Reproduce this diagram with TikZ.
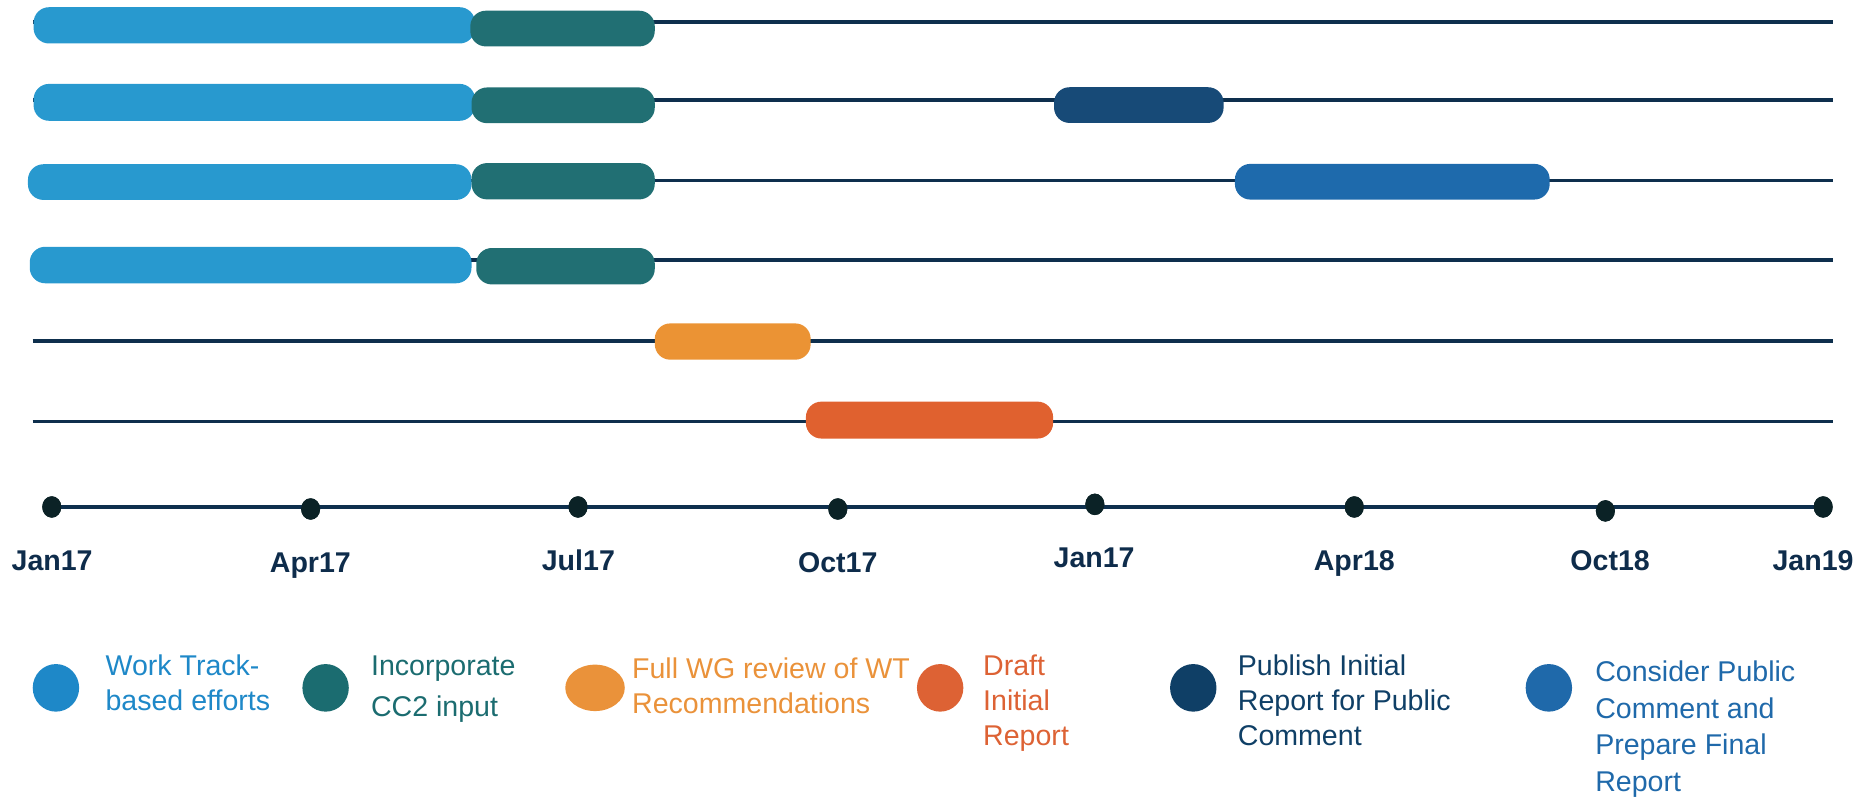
\documentclass[tikz,border=0pt]{standalone}
\usepackage{fontspec}
\setmainfont{Liberation Sans}
\definecolor{lb}{HTML}{2899CF}
\definecolor{teal2}{HTML}{216F73}
\definecolor{navy2}{HTML}{174A77}
\definecolor{blue2}{HTML}{1E6AAC}
\definecolor{orange2}{HTML}{EB9334}
\definecolor{red2}{HTML}{E0612F}
\definecolor{linec}{HTML}{0E2F4D}
\definecolor{dotc}{HTML}{0B2226}
\definecolor{labc}{HTML}{0E2C4B}
\definecolor{t1}{HTML}{1E88C8}
\definecolor{t2}{HTML}{1B6C70}
\definecolor{t3}{HTML}{EA923A}
\definecolor{t4}{HTML}{DD6234}
\definecolor{t5}{HTML}{0F3F66}
\definecolor{t6}{HTML}{1F69AA}
\tikzset{
  bar/.style={rectangle, rounded corners=13pt, inner sep=0pt, anchor=west, draw=none},
  rowline/.style={draw=linec, line width=3pt},
  tick/.style={ellipse, fill=dotc, minimum width=16pt, minimum height=18pt, inner sep=0pt},
  datelab/.style={anchor=base, inner sep=0pt, text=labc, font=\fontsize{24}{28}\selectfont\bfseries},
  legdot/.style={ellipse, inner sep=0pt, minimum height=40pt},
  legtext/.style={anchor=north west, inner sep=0pt, align=left}
}
\usetikzlibrary{shapes.geometric}
\begin{document}
\begin{tikzpicture}[x=1pt,y=-1pt]
\useasboundingbox (0,0) rectangle (1568,672);
% row lines
\coordinate (l1s) at (28,18.5);   \coordinate (l1e) at (1540,18.5);
\coordinate (l2s) at (28,84);     \coordinate (l2e) at (1540,84);
\coordinate (l3s) at (28,151.5);  \coordinate (l3e) at (1540,151.5);
\coordinate (l4s) at (28,218.5);  \coordinate (l4e) at (1540,218.5);
\coordinate (l5s) at (27.5,286.5);\coordinate (l5e) at (1540,286.5);
\coordinate (l6s) at (27.5,354);  \coordinate (l6e) at (1540,354);
\foreach \i in {1,...,6} \draw[rowline] (l\i s) -- (l\i e);
% bars
\node[bar, fill=lb, minimum width=371pt, minimum height=30.5pt] (b1a) at (28,21.3) {};
\node[bar, fill=lb, minimum width=371pt, minimum height=31pt] (b2a) at (28,86) {};
\node[bar, fill=lb, minimum width=372.7pt, minimum height=30pt] (b3a) at (23.3,153) {};
\node[bar, fill=lb, minimum width=371.2pt, minimum height=30.7pt] (b4a) at (24.8,222.7) {};
\node[bar, fill=teal2, minimum width=155pt, minimum height=30pt] (b1b) at (395,24) {};
\node[bar, fill=teal2, minimum width=154pt, minimum height=30pt] (b2b) at (396,88.5) {};
\node[bar, fill=teal2, minimum width=154pt, minimum height=30.5pt] (b3b) at (396,152.3) {};
\node[bar, fill=teal2, minimum width=150pt, minimum height=30.6pt] (b4b) at (400,223.7) {};
\node[bar, fill=navy2, minimum width=142.5pt, minimum height=30pt] (b2c) at (885.5,88.3) {};
\node[bar, fill=blue2, minimum width=264.5pt, minimum height=30pt] (b3c) at (1037.5,152.7) {};
\node[bar, fill=orange2, minimum width=131pt, minimum height=30.5pt] (b5) at (550,287) {};
\node[bar, fill=red2, minimum width=207.7pt, minimum height=31pt] (b6) at (677,353) {};
% axis
\node[tick] (d1) at (43.5,426) {};
\node[tick] (d2) at (261,427.7) {};
\node[tick] (d3) at (485.7,426) {};
\node[tick] (d4) at (704,427.7) {};
\node[tick] (d5) at (920,423.8) {};
\node[tick] (d6) at (1138,426) {};
\node[tick] (d7) at (1349,429.3) {};
\node[tick] (d8) at (1532,426) {};
\draw[rowline] (d1.center) -- (d8.center);
\foreach \i in {1,...,8} \fill[dotc] (d\i) ellipse (8pt and 9pt);
\node[datelab] (a1) at (43.8,479.6) {Jan17};
\node[datelab] (a2) at (260.8,481.2) {Apr17};
\node[datelab] (a3) at (486,479.6) {Jul17};
\node[datelab] (a4) at (704,481.2) {Oct17};
\node[datelab] (a5) at (919.4,477) {Jan17};
\node[datelab] (a6) at (1138,479.6) {Apr18};
\node[datelab] (a7) at (1353,479.6) {Oct18};
\node[datelab] (a8) at (1523.5,479.6) {Jan19};
% legend
\node[legdot, fill=t1, minimum width=39pt] (k1) at (47,578) {};
\node[legdot, fill=t2, minimum width=39pt] (k2) at (273.6,578) {};
\node[legdot, fill=t3, minimum width=50pt, minimum height=39pt] (k3) at (500,578) {};
\node[legdot, fill=t4, minimum width=39pt] (k4) at (790,578) {};
\node[legdot, fill=t5, minimum width=39pt] (k5) at (1002.7,578) {};
\node[legdot, fill=t6, minimum width=39pt] (k6) at (1301.5,578) {};
\node[legtext, text=t1, font=\fontsize{24}{29.4}\selectfont] (x1) at (88.5,549.7) {Work Track-\\based efforts};
\node[legtext, text=t2, font=\fontsize{24}{34}\selectfont] (x2) at (311.6,551.2) {Incorporate\\CC2 input};
\node[legtext, text=t3, font=\fontsize{24}{29.4}\selectfont] (x3) at (531,552.5) {Full WG review of WT\\Recommendations};
\node[legtext, text=t4, font=\fontsize{24}{29.4}\selectfont] (x4) at (826,549.7) {Draft\\Initial\\Report};
\node[legtext, text=t5, font=\fontsize{24}{29.4}\selectfont] (x5) at (1040,549.7) {Publish Initial\\Report for Public\\Comment};
\node[legtext, text=t6, font=\fontsize{24}{31}\selectfont] (x6) at (1340.3,554.8) {Consider Public\\Comment and\\Prepare Final\\Report};
\end{tikzpicture}
\end{document}
